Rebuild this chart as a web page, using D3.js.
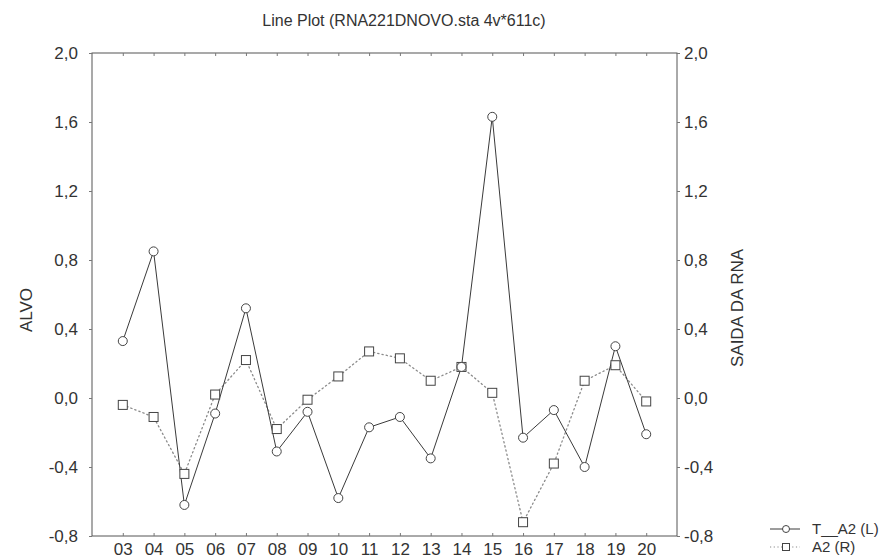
<!DOCTYPE html>
<html>
<head>
<meta charset="utf-8">
<script src="https://cdn.jsdelivr.net/npm/d3@7"></script>
<style>
  html, body { margin: 0; padding: 0; background: #fff; }
  svg { display: block; font-family: "Liberation Sans", Arial, sans-serif; }
  text { fill: #333; }
</style>
</head>
<body>
<svg id="chart" width="895" height="558"></svg>
<script>
// Observations (x categories)
const categories = ["03","04","05","06","07","08","09","10","11","12","13","14","15","16","17","18","19","20"];
// T__A2, plotted against the left axis (ALVO)
const targetSeries = [0.33, 0.85, -0.62, -0.09, 0.52, -0.31, -0.08, -0.58, -0.17, -0.11, -0.35, 0.18, 1.63, -0.23, -0.07, -0.40, 0.30, -0.21];
// A2, plotted against the right axis (SAIDA DA RNA)
const outputSeries = [-0.04, -0.11, -0.44, 0.02, 0.22, -0.18, -0.01, 0.125, 0.27, 0.23, 0.10, 0.18, 0.03, -0.72, -0.38, 0.10, 0.19, -0.02];
// Shared tick values for both vertical axes
const yTicks = [-0.8, -0.4, 0.0, 0.4, 0.8, 1.2, 1.6, 2.0];
const yDomain = [-0.8, 2.0];

const title = "Line Plot (RNA221DNOVO.sta 4v*611c)";
const leftTitle = "ALVO";
const rightTitle = "SAIDA DA RNA";
const legendLabels = ["T__A2 (L)", "A2 (R)"];

const svg = d3.select("#chart");
const frame = { left: 92, right: 677, top: 53, bottom: 536 };
const fontSize = "17px";

const x = d3.scalePoint().domain(categories).range([frame.left, frame.right]).padding(1);
const yL = d3.scaleLinear().domain(yDomain).range([frame.bottom, frame.top]);
const yR = d3.scaleLinear().domain(yDomain).range([frame.bottom, frame.top]);

const fmt = v => d3.format(".1f")(v).replace("−", "-").replace(".", ",");
const ink = "#3a3a3a";

// Title
svg.append("text")
  .attr("x", 404)
  .attr("y", 26)
  .attr("text-anchor", "middle")
  .style("font-size", "16px")
  .text(title);

// Plot frame
svg.append("rect")
  .attr("x", frame.left).attr("y", frame.top)
  .attr("width", frame.right - frame.left)
  .attr("height", frame.bottom - frame.top)
  .attr("fill", "none").attr("stroke", "#555").attr("stroke-width", 1);

// Left axis
const leftAxis = svg.append("g")
  .attr("transform", `translate(${frame.left},0)`)
  .call(d3.axisLeft(yL).tickValues(yTicks).tickFormat(fmt).tickSize(3).tickPadding(11));
// Right axis
const rightAxis = svg.append("g")
  .attr("transform", `translate(${frame.right},0)`)
  .call(d3.axisRight(yR).tickValues(yTicks).tickFormat(fmt).tickSize(3).tickPadding(4));
// Bottom axis: labels below, small ticks pointing into the plot
const bottomAxis = svg.append("g")
  .attr("transform", `translate(0,${frame.bottom})`)
  .call(d3.axisBottom(x).tickSize(-3).tickPadding(7));
// Top edge: inward ticks only
const topAxis = svg.append("g")
  .attr("transform", `translate(0,${frame.top})`)
  .call(d3.axisTop(x).tickSize(-3).tickFormat(""));

[leftAxis, rightAxis, bottomAxis, topAxis].forEach(g => {
  g.select(".domain").remove();
  g.selectAll(".tick line").attr("stroke", "#777");
  g.selectAll("text").style("font-size", fontSize).attr("fill", "#333")
    .style("font-family", "Liberation Sans, Arial, sans-serif");
});

// Axis titles
svg.append("text")
  .attr("transform", `translate(28,310) rotate(-90)`)
  .attr("text-anchor", "middle")
  .attr("dominant-baseline", "middle")
  .style("font-size", fontSize)
  .text(leftTitle);
svg.append("text")
  .attr("transform", `translate(739,308) rotate(-90)`)
  .attr("text-anchor", "middle")
  .attr("dominant-baseline", "middle")
  .style("font-size", fontSize)
  .text(rightTitle);

// Series lines
const lineR = d3.line().x((d, i) => x(categories[i])).y(d => yR(d));
const lineL = d3.line().x((d, i) => x(categories[i])).y(d => yL(d));

svg.append("path").datum(outputSeries)
  .attr("d", lineR).attr("fill", "none")
  .attr("stroke", "#8a8a8a").attr("stroke-width", 1.3)
  .attr("stroke-dasharray", "1.3,3").attr("stroke-linecap", "round");

svg.append("path").datum(targetSeries)
  .attr("d", lineL).attr("fill", "none")
  .attr("stroke", ink).attr("stroke-width", 1);

// Markers
svg.append("g").selectAll("rect").data(outputSeries).join("rect")
  .attr("x", (d, i) => x(categories[i]) - 4.5)
  .attr("y", d => yR(d) - 4.5)
  .attr("width", 9).attr("height", 9)
  .attr("fill", "#fff").attr("stroke", "#444").attr("stroke-width", 1);

svg.append("g").selectAll("circle").data(targetSeries).join("circle")
  .attr("cx", (d, i) => x(categories[i]))
  .attr("cy", d => yL(d))
  .attr("r", 4.5)
  .attr("fill", "#fff").attr("stroke", "#444").attr("stroke-width", 1);

// Legend
const legend = svg.append("g").attr("transform", "translate(770,0)");
const rows = [{ y: 529, kind: "circle" }, { y: 547, kind: "square" }];
rows.forEach((r, k) => {
  const g = legend.append("g").attr("transform", `translate(0,${r.y})`);
  if (r.kind === "circle") {
    g.append("line").attr("x1", 0).attr("x2", 30).attr("stroke", ink).attr("stroke-width", 1);
    g.append("circle").attr("cx", 16).attr("r", 3.5).attr("fill", "#fff").attr("stroke", "#444");
  } else {
    g.append("line").attr("x1", 0).attr("x2", 30).attr("stroke", "#8a8a8a")
      .attr("stroke-width", 1.2).attr("stroke-dasharray", "1.2,2.5");
    g.append("rect").attr("x", 12.5).attr("y", -3.5).attr("width", 7).attr("height", 7)
      .attr("fill", "#fff").attr("stroke", "#444");
  }
  g.append("text").attr("x", 42).attr("dy", "0.35em")
    .style("font-size", "15px").text(legendLabels[k]);
});
</script>
</body>
</html>
